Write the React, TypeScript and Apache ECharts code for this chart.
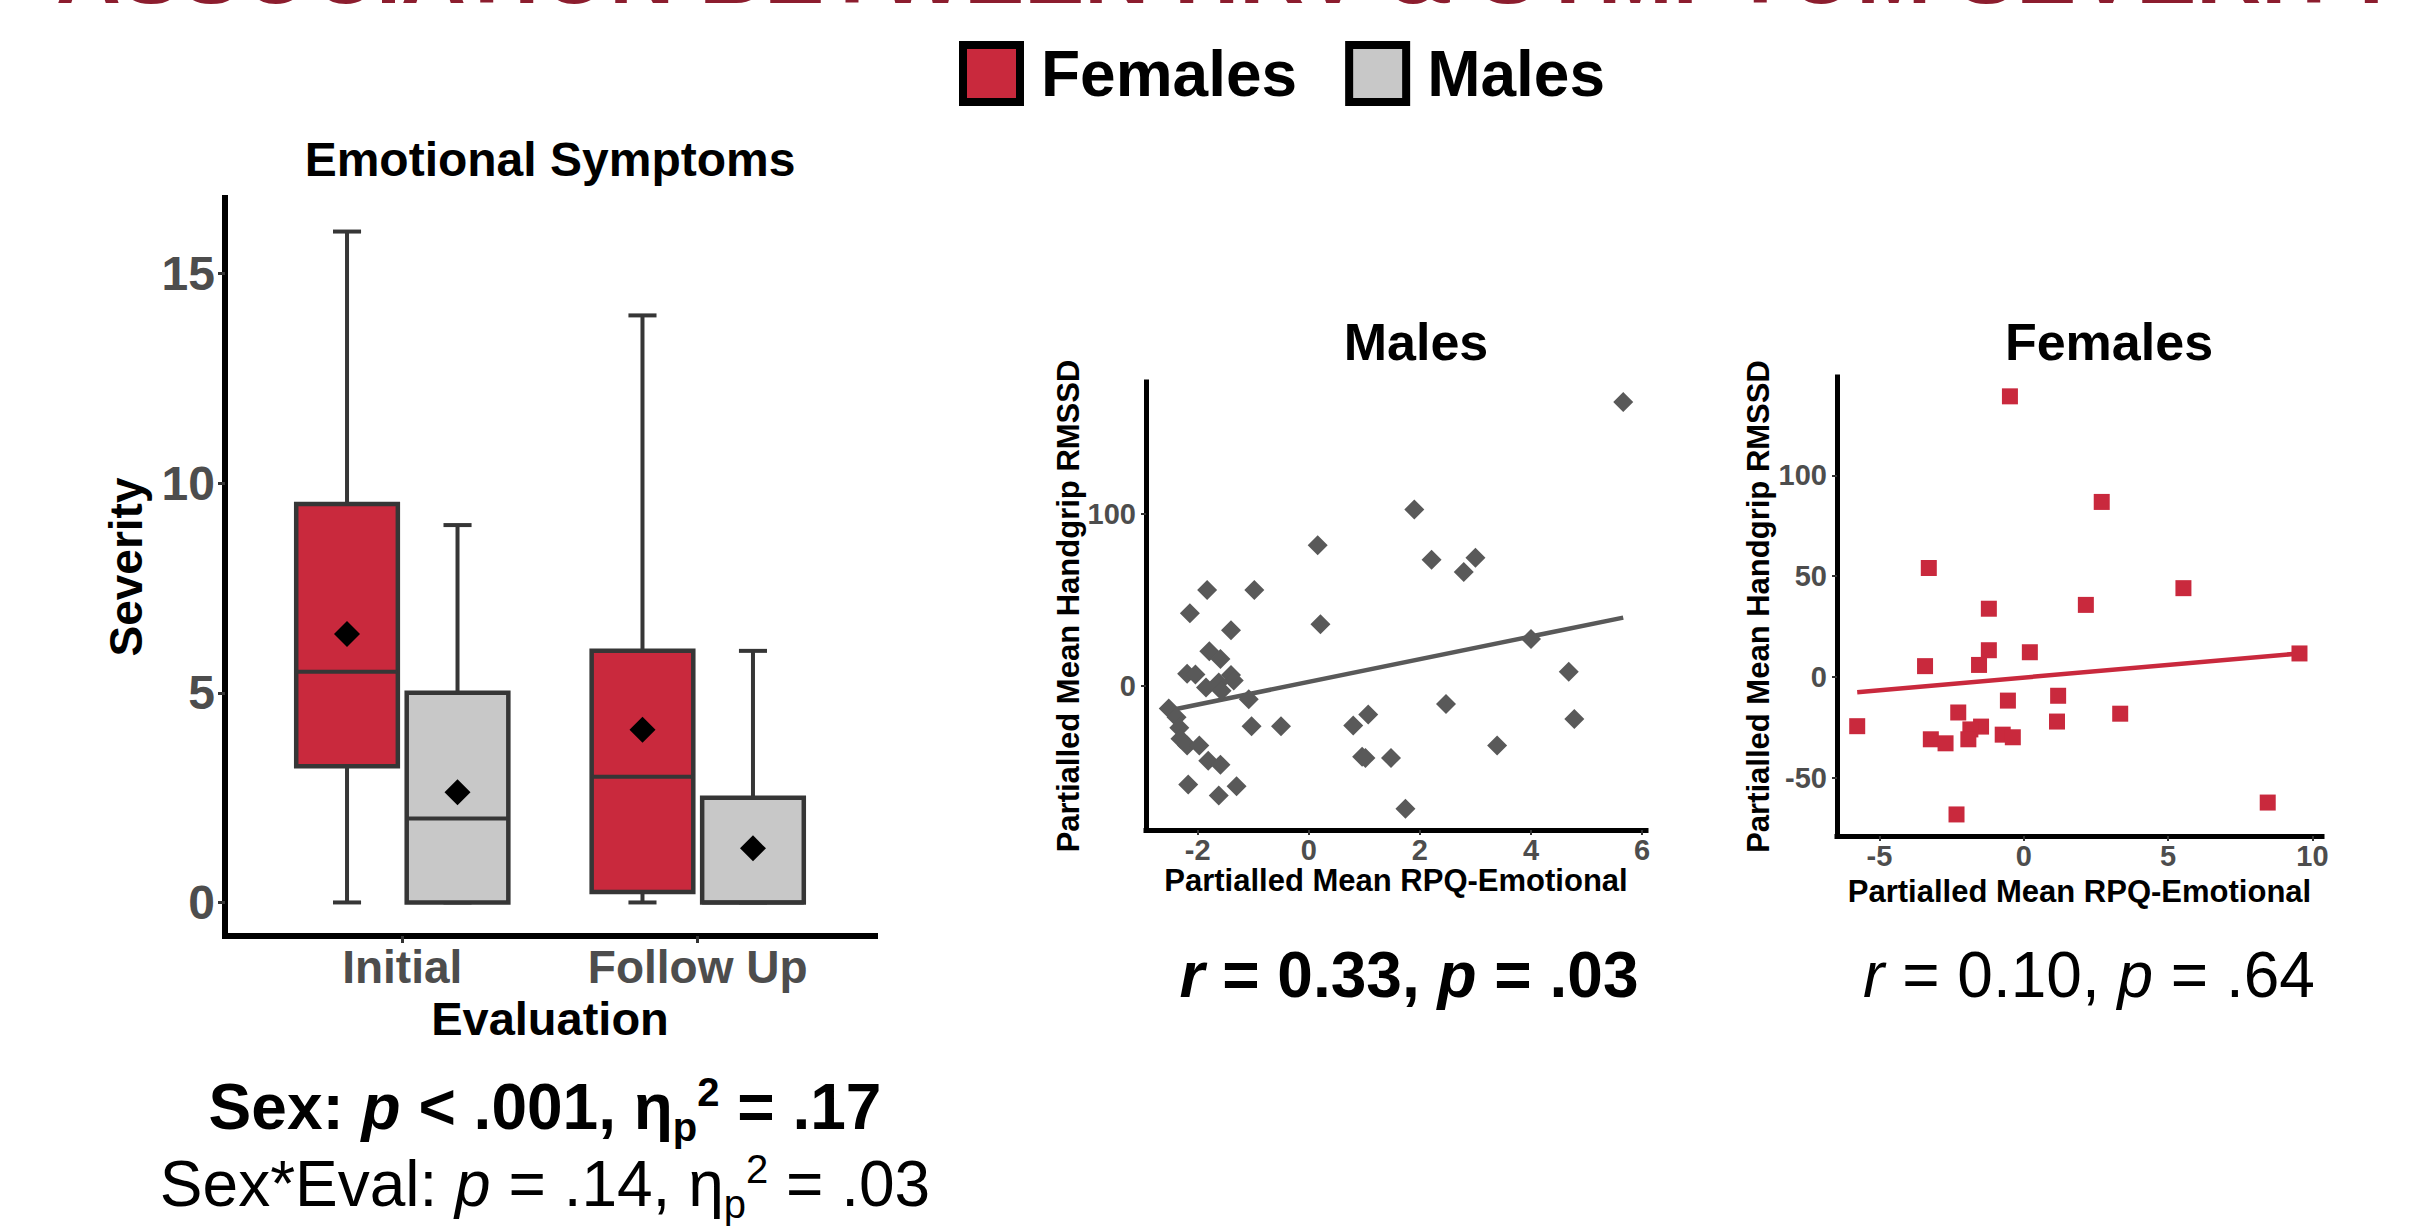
import React, { useEffect, useRef } from 'react';
import * as echarts from 'echarts';

const FONT = '"Liberation Sans", Arial, Helvetica, sans-serif';
const FEMALE_COLOR = '#C9293D';
const MALE_COLOR = '#C8C8C8';
const MALE_POINT = '#595959';
const EDGE = '#363636';
const TICK_TEXT = '#4D4D4D';

// ---- Box plot data ----
const sexLabels = ['Females', 'Males'];
const evalLabels = ['Initial', 'Follow Up'];
const severityTicks = [0, 5, 10, 15];
const evalTicks = [1, 2];
// [lower whisker, Q1, median, Q3, upper whisker] for Initial, Follow Up
const femaleBoxes = [
  [0, 3.25, 5.5, 9.5, 16],
  [0, 0.25, 3, 6, 14],
];
const maleBoxes = [
  [0, 0, 2, 5, 9],
  [0, 0, 0, 2.5, 6],
];
const femaleMeans = [6.4, 4.12];
const maleMeans = [2.63, 1.29];

// ---- Males scatter ----
const maleRpq = [5.66, 1.9, 0.16, 2.21, 3.0, 2.79, -1.83, -0.98, -2.14, 0.21, -1.4, -1.79, -1.59, 4.0, -2.19, -2.04, -1.4, 4.68, -1.35, -1.62, -1.85, -1.57, -1.08, -2.52, -2.38, 2.47, 1.07, 4.78, -2.33, -1.03, -0.5, 0.8, -2.31, -2.19, -1.97, 3.39, -1.81, -1.59, 0.96, 1.02, 1.48, -2.17, -1.62, -1.3, 1.74];
const maleRmssd = [164.8, 102.3, 81.6, 73.1, 74.3, 66.0, 55.6, 55.6, 42.1, 35.6, 32.2, 20.0, 15.4, 27.1, 6.9, 6.4, 6.2, 8.0, 3.0, 1.8, -1.1, -3.0, -8.0, -13.3, -18.4, -10.8, -16.8, -19.5, -24.6, -23.7, -23.7, -23.2, -31.0, -34.9, -34.9, -34.9, -43.7, -46.0, -41.4, -42.1, -42.1, -57.5, -63.9, -58.6, -71.7];
const maleFit = [[-2.52, -14.5], [5.66, 39.5]];
const maleXTicks = [-2, 0, 2, 4, 6];
const maleYTicks = [0, 100];

// ---- Females scatter ----
const femaleRpq = [-0.48, 2.7, -3.29, 5.53, 2.15, -1.21, -1.21, 0.21, 9.55, -3.42, -1.55, -0.55, 1.19, -2.27, 3.34, 1.15, -5.77, -1.48, -1.85, -3.22, -2.71, -1.92, -0.73, -0.38, 8.45, -2.33];
const femaleRmssd = [139.2, 86.8, 54.0, 44.0, 35.7, 33.8, 13.2, 12.2, 11.6, 5.3, 5.9, -11.8, -9.4, -17.7, -18.3, -22.2, -24.5, -24.7, -26.1, -31.0, -33.0, -31.0, -28.7, -30.0, -62.4, -68.3];
const femaleFit = [[-5.77, -7.6], [9.55, 11.6]];
const femaleXTicks = [-5, 0, 5, 10];
const femaleYTicks = [-50, 0, 50, 100];

const DODGE = 0.187;
const BOX_WIDTH = 0.344;
const CAP_WIDTH = 0.095;

const makeBoxRender = (fill: string) => (_params: any, api: any) => {
  const x = api.value(0);
  const lo = api.coord([x, api.value(1)]);
  const q1 = api.coord([x, api.value(2)]);
  const md = api.coord([x, api.value(3)]);
  const q3 = api.coord([x, api.value(4)]);
  const hi = api.coord([x, api.value(5)]);
  const half = api.size([BOX_WIDTH, 0])[0] / 2;
  const capHalf = api.size([CAP_WIDTH, 0])[0] / 2;
  const cx = q1[0];
  const line = { stroke: EDGE, lineWidth: 4 };
  return {
    type: 'group',
    children: [
      { type: 'line', shape: { x1: cx, y1: lo[1], x2: cx, y2: q1[1] }, style: line },
      { type: 'line', shape: { x1: cx, y1: q3[1], x2: cx, y2: hi[1] }, style: line },
      { type: 'line', shape: { x1: cx - capHalf, y1: lo[1], x2: cx + capHalf, y2: lo[1] }, style: line },
      { type: 'line', shape: { x1: cx - capHalf, y1: hi[1], x2: cx + capHalf, y2: hi[1] }, style: line },
      {
        type: 'rect',
        shape: { x: cx - half, y: q3[1], width: half * 2, height: q1[1] - q3[1] },
        style: { fill, stroke: EDGE, lineWidth: 4.5 },
      },
      { type: 'line', shape: { x1: cx - half, y1: md[1], x2: cx + half, y2: md[1] }, style: { stroke: EDGE, lineWidth: 4 } },
    ],
  };
};

const richStyles = (size: number, subSize: number, bold: boolean) => {
  const w = bold ? 'bold' : 'normal';
  const base = { fontFamily: FONT, fill: '#000', fontWeight: w };
  return {
    n: { ...base, fontSize: size, lineHeight: 80, verticalAlign: 'middle' },
    i: { ...base, fontSize: size, fontStyle: 'italic', lineHeight: 80, verticalAlign: 'middle' },
    sub: { ...base, fontSize: subSize, lineHeight: subSize, verticalAlign: 'bottom' },
    sup: { ...base, fontSize: subSize, lineHeight: subSize, verticalAlign: 'top', padding: [5, 0, 0, 0] },
  };
};

const textEl = (x: number, y: number, text: string, size: number, bold: boolean, align = 'center', fill = '#000') => ({
  type: 'text',
  x,
  y,
  style: {
    text,
    fontFamily: FONT,
    fontSize: size,
    fontWeight: bold ? 'bold' : 'normal',
    fill,
    align,
    textAlign: align,
    verticalAlign: 'middle',
    textVerticalAlign: 'middle',
  },
});

const richEl = (x: number, y: number, text: string, bold: boolean) => ({
  type: 'text',
  x,
  y,
  style: {
    text,
    rich: richStyles(64, 40, bold),
    fontFamily: FONT,
    fontSize: 64,
    fill: '#000',
    align: 'center',
    textAlign: 'center',
    verticalAlign: 'middle',
    textVerticalAlign: 'middle',
  },
});

const axisLine = (w: number) => ({ show: true, onZero: false, lineStyle: { color: '#000', width: w, cap: 'square' } });

function buildOption(): any {
  const tickLabel = (size: number, margin: number, values: number[], formatter?: any) => ({
    show: true,
    customValues: values,
    fontSize: size,
    fontWeight: 'bold',
    color: TICK_TEXT,
    fontFamily: FONT,
    margin,
    formatter,
  });
  const tick = (values: number[], len: number, w: number) => ({
    show: true,
    customValues: values,
    length: len,
    lineStyle: { color: '#333', width: w },
  });
  const nameStyle = (size: number) => ({ fontSize: size, fontWeight: 'bold', color: '#000', fontFamily: FONT });

  return {
    animation: false,
    backgroundColor: '#ffffff',
    textStyle: { fontFamily: FONT },
    legend: {
      left: 959,
      top: 41,
      padding: 0,
      icon: 'rect',
      itemWidth: 57,
      itemHeight: 57,
      itemGap: 48,
      selectedMode: false,
      textStyle: { fontSize: 64, fontWeight: 'bold', color: '#000', fontFamily: FONT, padding: [0, 0, 0, 16] },
      data: [
        { name: sexLabels[0], itemStyle: { color: FEMALE_COLOR, borderColor: '#000', borderWidth: 8, opacity: 1 } },
        { name: sexLabels[1], itemStyle: { color: MALE_COLOR, borderColor: '#000', borderWidth: 8, opacity: 1 } },
      ],
    },
    grid: [
      { left: 225, top: 198, width: 650, height: 738 },
      { left: 1146, top: 382, width: 500, height: 448 },
      { left: 1837, top: 377, width: 485, height: 459 },
    ],
    xAxis: [
      {
        type: 'value',
        gridIndex: 0,
        min: 0.4,
        max: 2.6,
        axisLine: axisLine(6),
        axisTick: tick(evalTicks, 7, 3),
        axisLabel: tickLabel(46, 8, evalTicks, (v: number) => evalLabels[Math.round(v) - 1] ?? ''),
        splitLine: { show: false },
        name: 'Evaluation',
        nameLocation: 'middle',
        nameGap: 59,
        nameTextStyle: nameStyle(47),
      },
      {
        type: 'value',
        gridIndex: 1,
        min: -2.93,
        max: 6.07,
        axisLine: axisLine(5),
        axisTick: tick(maleXTicks, 5, 2),
        axisLabel: tickLabel(29, 5, maleXTicks),
        splitLine: { show: false },
        name: 'Partialled Mean RPQ-Emotional',
        nameLocation: 'middle',
        nameGap: 34,
        nameTextStyle: nameStyle(31),
      },
      {
        type: 'value',
        gridIndex: 2,
        min: -6.47,
        max: 10.33,
        axisLine: axisLine(5),
        axisTick: tick(femaleXTicks, 5, 2),
        axisLabel: tickLabel(29, 5, femaleXTicks),
        splitLine: { show: false },
        name: 'Partialled Mean RPQ-Emotional',
        nameLocation: 'middle',
        nameGap: 40,
        nameTextStyle: nameStyle(31),
      },
    ],
    yAxis: [
      {
        type: 'value',
        gridIndex: 0,
        min: -0.8,
        max: 16.8,
        axisLine: axisLine(6),
        axisTick: tick(severityTicks, 7, 3),
        axisLabel: tickLabel(48, 10, severityTicks),
        splitLine: { show: false },
        name: 'Severity',
        nameLocation: 'middle',
        nameGap: 76,
        nameTextStyle: nameStyle(46),
      },
      {
        type: 'value',
        gridIndex: 1,
        min: -84,
        max: 176.5,
        axisLine: axisLine(5),
        axisTick: tick(maleYTicks, 5, 2),
        axisLabel: tickLabel(29, 10, maleYTicks),
        splitLine: { show: false },
        name: 'Partialled Mean Handgrip RMSSD',
        nameLocation: 'middle',
        nameGap: 62,
        nameTextStyle: nameStyle(31),
      },
      {
        type: 'value',
        gridIndex: 2,
        min: -79,
        max: 148.8,
        axisLine: axisLine(5),
        axisTick: tick(femaleYTicks, 5, 2),
        axisLabel: tickLabel(29, 10, femaleYTicks),
        splitLine: { show: false },
        name: 'Partialled Mean Handgrip RMSSD',
        nameLocation: 'middle',
        nameGap: 63,
        nameTextStyle: nameStyle(31),
      },
    ],
    series: [
      {
        name: sexLabels[0],
        type: 'custom',
        xAxisIndex: 0,
        yAxisIndex: 0,
        itemStyle: { color: FEMALE_COLOR },
        renderItem: makeBoxRender(FEMALE_COLOR),
        encode: { x: 0, y: [1, 2, 3, 4, 5] },
        data: femaleBoxes.map((b, i) => [evalTicks[i] - DODGE, ...b]),
        z: 2,
      },
      {
        name: sexLabels[1],
        type: 'custom',
        xAxisIndex: 0,
        yAxisIndex: 0,
        itemStyle: { color: MALE_COLOR },
        renderItem: makeBoxRender(MALE_COLOR),
        encode: { x: 0, y: [1, 2, 3, 4, 5] },
        data: maleBoxes.map((b, i) => [evalTicks[i] + DODGE, ...b]),
        z: 2,
      },
      {
        name: 'Female mean',
        type: 'scatter',
        xAxisIndex: 0,
        yAxisIndex: 0,
        symbol: 'diamond',
        symbolSize: 26,
        itemStyle: { color: '#000', opacity: 1 },
        data: femaleMeans.map((m, i) => [evalTicks[i] - DODGE, m]),
        z: 4,
      },
      {
        name: 'Male mean',
        type: 'scatter',
        xAxisIndex: 0,
        yAxisIndex: 0,
        symbol: 'diamond',
        symbolSize: 26,
        itemStyle: { color: '#000', opacity: 1 },
        data: maleMeans.map((m, i) => [evalTicks[i] + DODGE, m]),
        z: 4,
      },
      {
        name: 'Males fit',
        type: 'line',
        xAxisIndex: 1,
        yAxisIndex: 1,
        symbol: 'none',
        lineStyle: { color: MALE_POINT, width: 4.5 },
        data: maleFit,
        z: 2,
      },
      {
        name: 'Males points',
        type: 'scatter',
        xAxisIndex: 1,
        yAxisIndex: 1,
        symbol: 'diamond',
        symbolSize: 20,
        itemStyle: { color: MALE_POINT, opacity: 1 },
        data: maleRpq.map((x, i) => [x, maleRmssd[i]]),
        z: 3,
      },
      {
        name: 'Females fit',
        type: 'line',
        xAxisIndex: 2,
        yAxisIndex: 2,
        symbol: 'none',
        lineStyle: { color: FEMALE_COLOR, width: 4.5 },
        data: femaleFit,
        z: 2,
      },
      {
        name: 'Females points',
        type: 'scatter',
        xAxisIndex: 2,
        yAxisIndex: 2,
        symbol: 'rect',
        symbolSize: 16,
        itemStyle: { color: FEMALE_COLOR, opacity: 1 },
        data: femaleRpq.map((x, i) => [x, femaleRmssd[i]]),
        z: 3,
      },
    ],
    graphic: [
      textEl(56, -28, 'ASSOCIATION BETWEEN HRV & SYMPTOM SEVERITY', 90, true, 'left', '#8C1D2E'),
      textEl(550, 159, 'Emotional Symptoms', 48, true),
      textEl(1416, 342, 'Males', 52, true),
      textEl(2109, 342, 'Females', 52, true),
      richEl(1409, 975, '{i|r}{n| = 0.33, }{i|p}{n| = .03}', true),
      richEl(2089, 975, '{i|r}{n| = 0.10, }{i|p}{n| = .64}', false),
      richEl(545, 1107, '{n|Sex: }{i|p}{n| < .001, η}{sub|p}{sup|2}{n| = .17}', true),
      richEl(545, 1184, '{n|Sex*Eval: }{i|p}{n| = .14, η}{sub|p}{sup|2}{n| = .03}', false),
    ],
  };
}

export default function App() {
  const ref = useRef<HTMLDivElement>(null);
  useEffect(() => {
    if (!ref.current) return;
    const chart = echarts.init(ref.current, undefined, { renderer: 'svg' });
    chart.setOption(buildOption());
    return () => chart.dispose();
  }, []);
  return (
    <div
      ref={ref}
      style={{ position: 'absolute', left: 0, top: 0, width: 2418, height: 1226, background: '#fff' }}
    />
  );
}
